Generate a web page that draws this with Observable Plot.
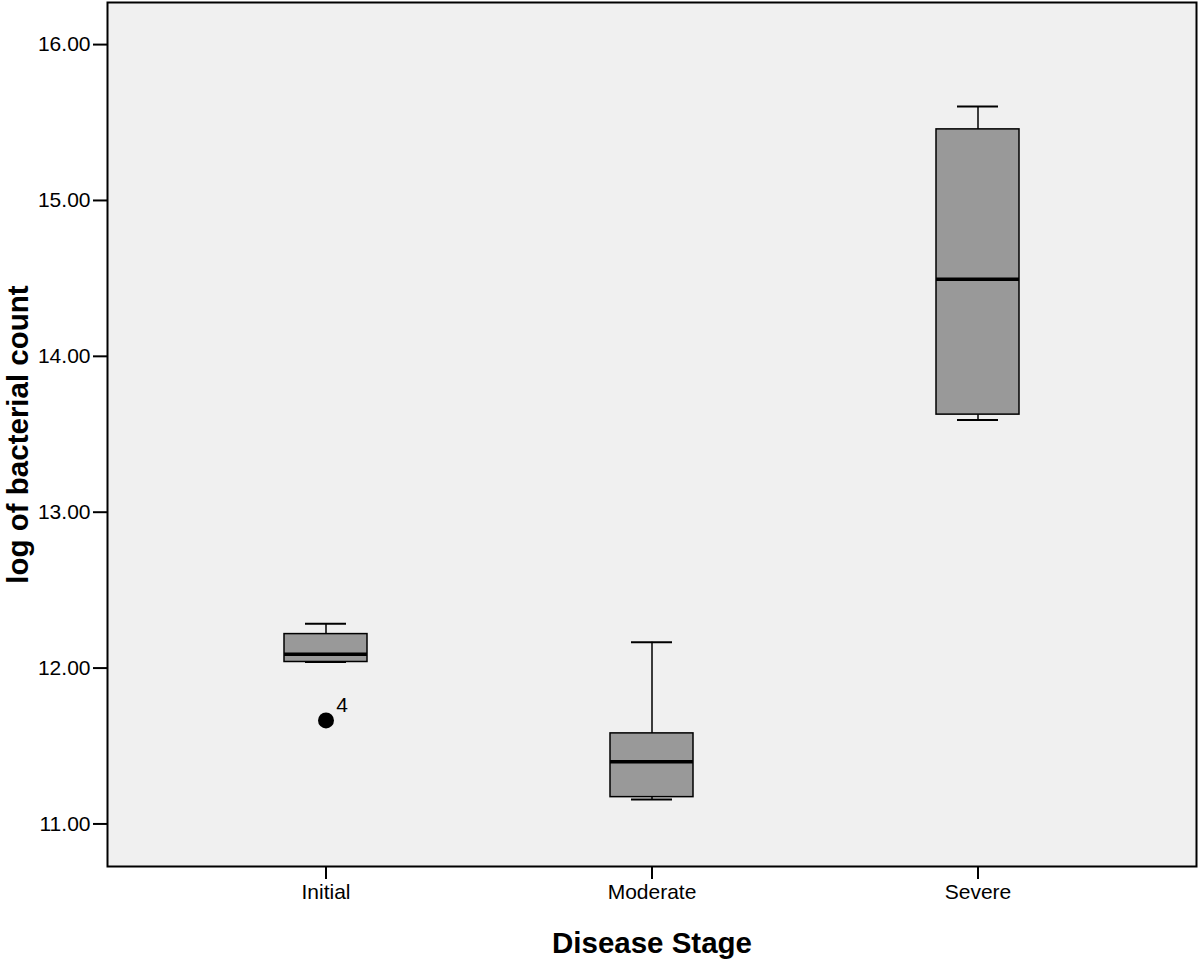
<!DOCTYPE html>
<html>
<head>
<meta charset="utf-8">
<script src="https://cdn.jsdelivr.net/npm/d3@7"></script>
<script src="https://cdn.jsdelivr.net/npm/@observablehq/plot@0.6"></script>
<style>
  html, body { margin: 0; padding: 0; background: white; }
</style>
</head>
<body>
<div id="chart"></div>
<script>
const stages = ["Initial", "Moderate", "Severe"];
const whiskerLow = [12.039, 11.157, 13.592];
const q1 = [12.039, 11.172, 13.626];
const median = [12.088, 11.399, 14.495];
const q3 = [12.218, 11.581, 15.456];
const whiskerHigh = [12.285, 12.165, 15.603];

const outlierStage = ["Initial"];
const outlierValue = [11.664];
const outlierLabel = ["4"];

const yTicks = [11, 12, 13, 14, 15, 16];

const boxes = stages.map((s, i) => ({
  stage: s, lo: whiskerLow[i], q1: q1[i], med: median[i], q3: q3[i], hi: whiskerHigh[i]
}));
const outliers = outlierStage.map((s, i) => ({stage: s, value: outlierValue[i], label: outlierLabel[i]}));

const chart = Plot.plot({
  width: 1200,
  height: 961,
  marginLeft: 107,
  marginRight: 4,
  marginTop: 2,
  marginBottom: 95,
  style: {fontFamily: "'Liberation Sans', Arial, sans-serif", color: "black", background: "white"},
  x: {type: "band", domain: stages, paddingInner: 0.745, paddingOuter: 0.541, label: null},
  y: {domain: [10.727, 16.27], label: null},
  marks: [
    Plot.frame({fill: "#f0f0f0", stroke: null}),
    // whiskers
    Plot.ruleX(boxes, {x: "stage", y1: "q3", y2: "hi", stroke: "black", strokeWidth: 1.5}),
    Plot.ruleX(boxes, {x: "stage", y1: "lo", y2: "q1", stroke: "black", strokeWidth: 1.5}),
    Plot.tickY(boxes, {x: "stage", y: "hi", stroke: "black", strokeWidth: 2, insetLeft: 21, insetRight: 21}),
    Plot.tickY(boxes, {x: "stage", y: "lo", stroke: "black", strokeWidth: 2, insetLeft: 21, insetRight: 21}),
    // boxes
    Plot.barY(boxes, {x: "stage", y1: "q1", y2: "q3", fill: "#999999", stroke: "black", strokeWidth: 1.5}),
    Plot.tickY(boxes, {x: "stage", y: "med", stroke: "black", strokeWidth: 3.5}),
    // outliers
    Plot.dot(outliers, {x: "stage", y: "value", r: 8, fill: "black", stroke: null}),
    Plot.text(outliers, {x: "stage", y: "value", text: "label", dx: 16, dy: -15, fontSize: 21, fill: "black"}),
    // axes
    Plot.axisY({ticks: yTicks, tickFormat: d => d.toFixed(2), tickSize: 14, tickPadding: 3, fontSize: 21, strokeWidth: 2, label: null}),
    Plot.axisX({tickSize: 13, tickPadding: 5, fontSize: 21, strokeWidth: 2, label: null}),
    Plot.frame({stroke: "black", strokeWidth: 2}),
    // titles
    Plot.text(["log of bacterial count"], {frameAnchor: "left", dx: -89, rotate: -90, textAnchor: "middle", lineAnchor: "middle", fontSize: 29.5, fontWeight: "bold", fill: "black"}),
    Plot.text(["Disease Stage"], {frameAnchor: "bottom", dy: 77, textAnchor: "middle", lineAnchor: "middle", fontSize: 29.5, fontWeight: "bold", fill: "black"})
  ]
});
document.getElementById("chart").appendChild(chart);
</script>
</body>
</html>
